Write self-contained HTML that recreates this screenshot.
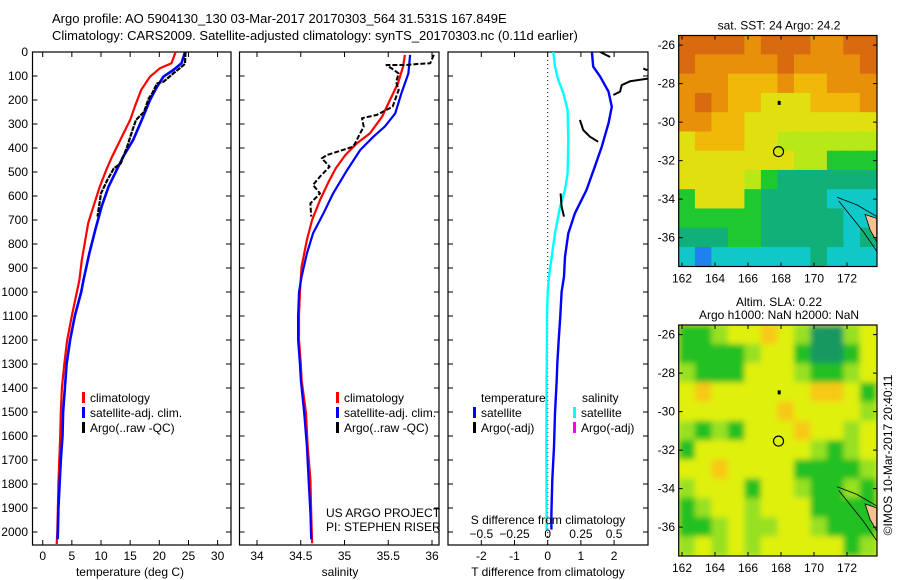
<!DOCTYPE html>
<html><head><meta charset="utf-8"><style>
html,body{margin:0;padding:0;background:#fff;}
svg{display:block;font-family:"Liberation Sans",sans-serif;}
</style></head><body>
<svg id="fig" width="900" height="580" viewBox="0 0 900 580" xmlns="http://www.w3.org/2000/svg">
<defs>
<filter id="blur" x="-5%" y="-5%" width="110%" height="110%"><feGaussianBlur stdDeviation="3"/></filter>
<clipPath id="clipDiff"><rect x="448" y="52" width="200" height="493"/></clipPath>
<clipPath id="clipSla"><rect x="678.7" y="325" width="198.3" height="231"/></clipPath>
</defs>
<text x="52" y="23" font-size="13">Argo profile: AO 5904130_130 03-Mar-2017 20170303_564 31.531S 167.849E</text>
<text x="52" y="40" font-size="13">Climatology: CARS2009. Satellite-adjusted climatology: synTS_20170303.nc (0.11d earlier)</text>
<g id="g"></g>
</svg>
<script>
// ---- data ----
const tempClimDepth=[0,47,68,103,158,228,283,367,436,492,561,644,713,783,867,950,1100,1200,1300,1400,1500,1600,1700,1800,1900,2000,2050];
const tempClimVal=[22.8,22.1,20.1,18.4,16.9,15.8,15.0,13.3,11.9,10.9,9.8,8.7,7.8,7.3,6.7,6.3,5.0,4.2,3.7,3.3,3.1,3.0,2.85,2.7,2.6,2.5,2.4];
const tempSatDepth=[0,47,75,103,145,200,283,367,436,506,561,644,742,839,950,1000,1100,1200,1300,1400,1500,1600,1700,1800,1900,2000,2030];
const tempSatVal=[24.4,23.8,22.4,20.7,19.6,18.4,17.0,15.5,13.8,12.4,11.3,10.1,9.0,8.0,7.0,6.6,5.5,4.7,4.1,3.8,3.5,3.4,3.1,2.9,2.7,2.6,2.55];
const tempArgoDepth=[0,49,68,89,124,131,172,193,249,283,325,394,464,485,533,589,686];
const tempArgoVal=[24.5,24.4,23.5,22.4,20.7,19.6,18.8,18.2,17.4,16.0,15.4,14.5,13.4,12.2,11.1,10.0,9.4];
const salClimDepth=[12,61,131,200,269,339,381,429,485,547,617,700,783,894,1000,1100,1200,1300,1367,1505,1644,1783,1922,2047];
const salClimVal=[35.69,35.67,35.61,35.52,35.43,35.29,35.14,35.01,34.90,34.81,34.72,34.63,34.57,34.51,34.49,34.48,34.48,34.50,34.51,34.56,34.58,34.61,34.62,34.63];
const salSatDepth=[12,89,172,256,311,353,408,492,589,672,756,839,936,1000,1100,1200,1300,1367,1505,1644,1783,1922,2030];
const salSatVal=[35.75,35.73,35.65,35.58,35.46,35.33,35.18,35.03,34.87,34.76,34.64,34.57,34.51,34.48,34.47,34.47,34.49,34.50,34.54,34.57,34.59,34.61,34.62];
const salArgoDepth=[12,47,50,54,54,89,124,158,228,262,276,311,394,429,443,478,519,554,589,631,686];
const salArgoVal=[36.02,35.98,35.83,35.70,35.48,35.62,35.59,35.62,35.55,35.37,35.20,35.22,35.10,34.80,34.74,34.83,34.72,34.64,34.72,34.61,34.62];
const dTSatDepth=[0,61,103,165,228,297,394,478,575,672,756,853,936,1000,1100,1200,1300,1367,1505,1644,1783,1922,1990];
const dTSatVal=[1.33,1.37,1.58,1.83,1.93,1.83,1.63,1.42,1.17,0.82,0.62,0.52,0.49,0.42,0.38,0.33,0.29,0.27,0.22,0.19,0.14,0.11,0.11];
const dSSatDepth=[0,61,117,172,242,367,506,575,644,756,853,936,1000,1100,1200,1300,1367,1644,1922,1990];
const dSSatVal=[0.042,0.055,0.08,0.118,0.15,0.155,0.15,0.13,0.093,0.055,0.03,0.01,0.0,-0.005,-0.006,-0.007,-0.008,-0.01,-0.008,-0.008];
const dTArgoSeg1Depth=[0,21];const dTArgoSeg1Val=[1.58,1.88];
const dTArgoSeg2Depth=[69,76];const dTArgoSeg2Val=[2.88,3.0];
const dTArgoSeg3Depth=[111,122,138,165,179];const dTArgoSeg3Val=[3.02,2.48,2.23,2.18,1.98];
const dTArgoSeg4Depth=[283,304,325,353,374];const dTArgoSeg4Val=[0.97,1.02,1.07,1.27,1.52];
const dTArgoSeg5Depth=[589,644,686];const dTArgoSeg5Val=[0.39,0.42,0.49];
const depthTicks=[0,100,200,300,400,500,600,700,800,900,1000,1100,1200,1300,1400,1500,1600,1700,1800,1900,2000];
const tempTicks=[0,5,10,15,20,25,30];
const salTicks=[34,34.5,35,35.5,36];
const dTTicks=[-2,-1,0,1,2];
const dSTicks=[-0.5,-0.25,0,0.25,0.5];
const lonTicks=[162,164,166,168,170,172];
const latTicks=[-26,-28,-30,-32,-34,-36];
const sstRows=["DDDDODDDOODD","DOOOOODOOOOD","OOOLLLOLLOOO","ODOLLYYYLLLO","OOLLYYYYYYYY","YLLLYYGGGGGG","YYYYYYYGGNNN","YYYYGNTTTTTT","NYYYNTTTTCCC","NNNNNTTTTTCC","TTTNNTTTTTCT","CBCCCCCCTCCC"];
const slaRows=["NNgYYoYgTTgY","NNNNgYYNTTNY","gNNNYYYgNNgY","YoYYYYYYooYN","YYYYYYoYYYYg","gNgNYYYoYYgY","NYYYYYYYgNgY","YYoYYYYNNNNg","gYYYNYYgNNgN","NgYYgYYYNNNN","NNgYggYYgNNN","gYgYgYYYYYNg"];
const argoLon=167.849, argoLat=-31.531;

// ---- drawing ----
const NS="http://www.w3.org/2000/svg";
const G=document.getElementById('g');
function el(tag,attrs,parent){const e=document.createElementNS(NS,tag);for(const k in attrs)e.setAttribute(k,attrs[k]);(parent||G).appendChild(e);return e;}
function txt(x,y,s,size,anchor,parent){const t=el('text',{x:x,y:y,'font-size':size||12,'text-anchor':anchor||'start'},parent);t.textContent=s;return t;}
const TOP=52,BOT=545;
const yD=d=>TOP+d*0.24;
const xT=v=>42.7+v*5.83;
const xS=v=>257+(v-34)*87.5;
const xdT=v=>547.7+v*33.2;
const xdS=v=>547.7+v*132.8;
function frame(x0,x1,name,ticksX,fx){
  const r=el('rect',{x:x0,y:TOP,width:x1-x0,height:BOT-TOP,fill:'none',stroke:'#000','stroke-width':1.2});
  
  
  depthTicks.forEach(d=>{el('line',{x1:x0,x2:x0+5,y1:yD(d),y2:yD(d),stroke:'#000'});el('line',{x1:x1,x2:x1-5,y1:yD(d),y2:yD(d),stroke:'#000'});});
  ticksX.forEach(v=>{el('line',{x1:fx(v),x2:fx(v),y1:BOT,y2:BOT-5,stroke:'#000'});el('line',{x1:fx(v),x2:fx(v),y1:TOP,y2:TOP+5,stroke:'#000'});
    const t=txt(fx(v),560,String(v),12,'middle');
    
    });
}
function line(ds,vs,fx,color,w,name,dash,parent){
  const pts=ds.map((d,i)=>fx(vs[i]).toFixed(1)+','+yD(d).toFixed(1)).join(' ');
  const p=el('polyline',{points:pts,fill:'none',stroke:color,'stroke-width':w,'stroke-linejoin':'round'},parent);
  if(dash)p.setAttribute('stroke-dasharray',dash);
  
  
}
// panel 1
frame(32.5,231,'temperature-panel',tempTicks,xT);
depthTicks.forEach(d=>{const t=txt(28,yD(d)+4,String(d),12,'end');
  
  });
line(tempClimDepth,tempClimVal,xT,'#f00',2.2,'temperature-climatology-line');
line(tempSatDepth,tempSatVal,xT,'#00f',2.6,'temperature-satellite-line');
line(tempArgoDepth,tempArgoVal,xT,'#000',2.2,'temperature-argo-line','5 1');
let t=txt(130,576,'temperature (deg C)',12,'middle');
function legend(x,y,items,name){
  const g=el('g',{});
  items.forEach((it,i)=>{el('rect',{x:x,y:y+i*15-10,width:3,height:11,fill:it[0]},g);txt(x+8,y+i*15,it[1],12,'start',g);});
}
legend(82,402,[['#f00','climatology'],['#00f','satellite-adj. clim.'],['#000','Argo(..raw -QC)']],'temperature-legend');
// panel 2
frame(239.5,439,'salinity-panel',salTicks,xS);
line(salClimDepth,salClimVal,xS,'#f00',2.2,'salinity-climatology-line');
line(salSatDepth,salSatVal,xS,'#00f',2.2,'salinity-satellite-line');
line(salArgoDepth,salArgoVal,xS,'#000',2,'salinity-argo-line','5 2');
t=txt(340,576,'salinity',12,'middle');
legend(336,402,[['#f00','climatology'],['#00f','satellite-adj. clim.'],['#000','Argo(..raw -QC)']],'salinity-legend');
t=txt(326,517,'US ARGO PROJECT',12);
t=txt(326,531,'PI: STEPHEN RISER',12);
// panel 3
frame(448,648,'difference-panel',dTTicks,xdT);
const dg=el('g',{'clip-path':'url(#clipDiff)'});
el('line',{x1:xdT(0),x2:xdT(0),y1:TOP,y2:BOT,stroke:'#000','stroke-dasharray':'1 3'},dg);
line(dSSatDepth,dSSatVal,xdS,'#0ff',2.4,'salinity-difference-satellite-line',null,dg);
line(dTSatDepth,dTSatVal,xdT,'#00f',2.4,'temperature-difference-satellite-line',null,dg);
[[dTArgoSeg1Depth,dTArgoSeg1Val],[dTArgoSeg2Depth,dTArgoSeg2Val],[dTArgoSeg3Depth,dTArgoSeg3Val],[dTArgoSeg4Depth,dTArgoSeg4Val],[dTArgoSeg5Depth,dTArgoSeg5Val]].forEach(s=>line(s[0],s[1],xdT,'#000',2,'temperature-difference-argo-segment',null,dg));
t=txt(481,402,'temperature',12);
t=txt(582,402,'salinity',12);
legend(473,417,[['#00f','satellite'],['#000','Argo(-adj)']],'temperature-difference-legend');
legend(573,417,[['#0ff','satellite'],['#f0f','Argo(-adj)']],'salinity-difference-legend');
t=txt(548,524,'S difference from climatology',12,'middle');
dSTicks.forEach(v=>{const tt=txt(xdS(v),538,String(v).replace('-','\u2212'),12,'middle');
  
  });
t=txt(548,576,'T difference from climatology',12,'middle');
// maps
const sstPal={D:'#d86a10',O:'#e8900a',L:'#f0b808',Y:'#e0e010',G:'#b8e818',N:'#20c830',T:'#10b078',C:'#10c8c8',B:'#2080f0'};
const slaPal={N:'#20c020',g:'#98e020',Y:'#e0f010',o:'#f8c818',T:'#189860'};
const mX=lon=>682+(lon-162)*16.5;
function map(top,rows,pal,name,title1,title2,smooth){
  const lat0=-25.5,y=lat=>top+(lat0-lat)*19.25;
  const g=el('g',{});
  let cg=g;
  if(smooth){const outer=el('g',{'clip-path':'url(#clipSla)'},g);cg=el('g',{filter:'url(#blur)'},outer);
    el('rect',{x:670,y:top-10,width:220,height:250,fill:'#d8ee18'},cg);}
  rows.forEach((r,i)=>{for(let j=0;j<r.length;j++){el('rect',{x:mX(161.8+j)-0.3,y:y(lat0-i)-0.3,width:17.1,height:19.9,fill:pal[r[j]]},cg);}});
  el('path',{d:`M${mX(173.1)},${y(-34.8)} L${mX(173.8)},${y(-35.0)} L${mX(173.8)},${y(-36.2)} L${mX(173.4)},${y(-35.6)} Z`,fill:'#f8c090',stroke:'#000','stroke-width':0.8},g);
  el('path',{d:`M${mX(171.4)},${y(-33.9)} L${mX(172.6)},${y(-34.3)} L${mX(173.8)},${y(-34.9)} M${mX(171.5)},${y(-34.1)} L${mX(173.0)},${y(-35.7)} L${mX(173.8)},${y(-36.7)}`,fill:'none',stroke:'#000','stroke-width':0.8},g);
  const c=el('circle',{cx:mX(argoLon),cy:y(argoLat),r:5,fill:'none',stroke:'#000','stroke-width':1.2},g);
  
  
  el('rect',{x:mX(167.8),y:y(-29)-2,width:3,height:4,fill:'#000'},g);
  el('rect',{x:678.7,y:top,width:198.3,height:y(-37.5)-top,fill:'none',stroke:'#000','stroke-width':1.2},g);
  lonTicks.forEach(v=>{el('line',{x1:mX(v),x2:mX(v),y1:y(-37.5),y2:y(-37.5)-4,stroke:'#000'},g);el('line',{x1:mX(v),x2:mX(v),y1:top,y2:top+4,stroke:'#000'},g);txt(mX(v),y(-37.5)+16,String(v),12,'middle',g);});
  latTicks.forEach(v=>{el('line',{x1:678.7,x2:682.7,y1:y(v),y2:y(v),stroke:'#000'},g);el('line',{x1:877,x2:873,y1:y(v),y2:y(v),stroke:'#000'},g);txt(675,y(v)+4,String(v),12,'end',g);});
  txt(779,top-6-(title2?13:0),title1,12,'middle',g);
  if(title2)txt(779,top-6,title2,12,'middle',g);
}
map(35.5,sstRows,sstPal,'sst-map','sat. SST: 24 Argo: 24.2');
map(325,slaRows,slaPal,'sla-map','Altim. SLA: 0.22','Argo h1000: NaN h2000: NaN',true);
t=txt(0,0,'\u00a9IMOS 10-Mar-2017 20:40:11',12,'middle');
t.setAttribute('transform','translate(892,455) rotate(-90)');


</script>
</body></html>
